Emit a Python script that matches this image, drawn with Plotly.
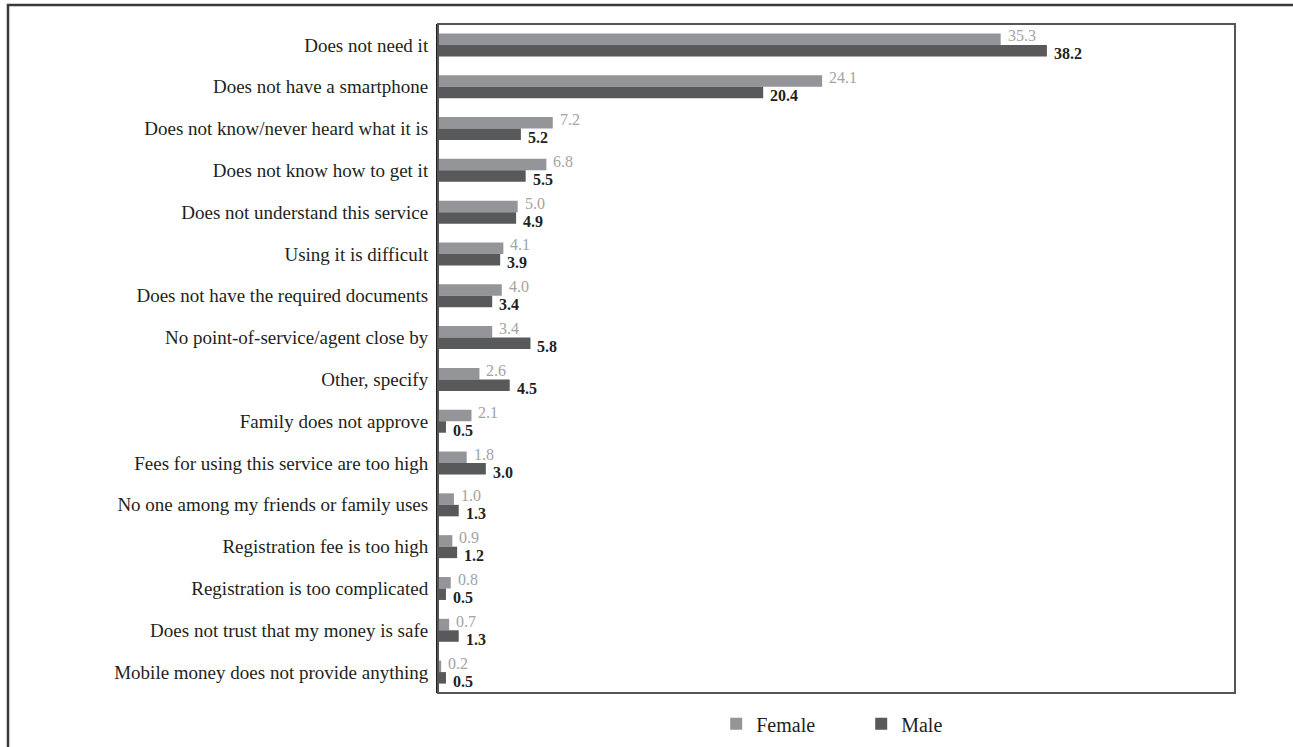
import plotly.graph_objects as go

categories = [
    "Does not need it",
    "Does not have a smartphone",
    "Does not know/never heard what it is",
    "Does not know how to get it",
    "Does not understand this service",
    "Using it is difficult",
    "Does not have the required documents",
    "No point-of-service/agent close by",
    "Other, specify",
    "Family does not approve",
    "Fees for using this service are too high",
    "No one among my friends or family uses",
    "Registration fee is too high",
    "Registration is too complicated",
    "Does not trust that my money is safe",
    "Mobile money does not provide anything",
]
female = [35.3, 24.1, 7.2, 6.8, 5.0, 4.1, 4.0, 3.4, 2.6, 2.1, 1.8, 1.0, 0.9, 0.8, 0.7, 0.2]
male = [38.2, 20.4, 5.2, 5.5, 4.9, 3.9, 3.4, 5.8, 4.5, 0.5, 3.0, 1.3, 1.2, 0.5, 1.3, 0.5]

FONT = "Liberation Serif"

fig = go.Figure()
fig.add_trace(go.Bar(
    y=categories, x=female, name="Female", orientation="h",
    marker=dict(color="#939598", line=dict(width=0)),
))
fig.add_trace(go.Bar(
    y=categories, x=male, name="Male", orientation="h",
    marker=dict(color="#58595b", line=dict(width=0)),
))

annotations = []
for c, f, m in zip(categories, female, male):
    annotations.append(dict(
        x=f, y=c, xref="x", yref="y", text=f"{f:.1f}", showarrow=False,
        xanchor="left", yanchor="middle", xshift=6, yshift=9, borderpad=0,
        font=dict(family=FONT, size=16, color="#a3a3a3"),
    ))
    annotations.append(dict(
        x=m, y=c, xref="x", yref="y", text=f"<b>{m:.1f}</b>", showarrow=False,
        xanchor="left", yanchor="middle", xshift=6, yshift=-9, borderpad=0,
        font=dict(family=FONT, size=16, color="#231f20"),
    ))

L, R, T, B = 438, 58, 24, 54
W, H = 1293, 747
pw, ph = W - L - R, H - T - B

fig.update_layout(
    width=W, height=H,
    margin=dict(l=L, r=R, t=T, b=B, pad=0, autoexpand=False),
    paper_bgcolor="white", plot_bgcolor="white",
    barmode="group", bargap=0.45, bargroupgap=0,
    font=dict(family=FONT, size=19, color="#231f20"),
    showlegend=True,
    legend=dict(orientation="h", x=0.531, xanchor="center", y=-0.046, yanchor="middle",
                font=dict(family=FONT, size=20, color="#231f20"),
                entrywidth=100, traceorder="normal"),
    xaxis=dict(range=[0, 50], showticklabels=False, showgrid=False, zeroline=False,
               ticks="", showline=False, fixedrange=True),
    yaxis=dict(autorange="reversed", showgrid=False, zeroline=False, ticks="",
               ticklabelstandoff=4, showline=True, linecolor="#231f20", linewidth=2,
               tickfont=dict(family=FONT, size=19, color="#231f20")),
    annotations=annotations,
    shapes=[
        dict(type="rect", xref="paper", yref="paper", x0=0, x1=1, y0=0, y1=1,
             line=dict(color="#555555", width=2), layer="above"),
        dict(type="rect", xref="paper", yref="paper",
             x0=(8 - L) / pw, x1=(W + 10 - L) / pw,
             y0=1 - (H + 10 - T) / ph, y1=1 + (T - 5) / ph,
             line=dict(color="#3a3a3a", width=2.5), layer="below"),
    ],
)

fig.write_html("out.html")
